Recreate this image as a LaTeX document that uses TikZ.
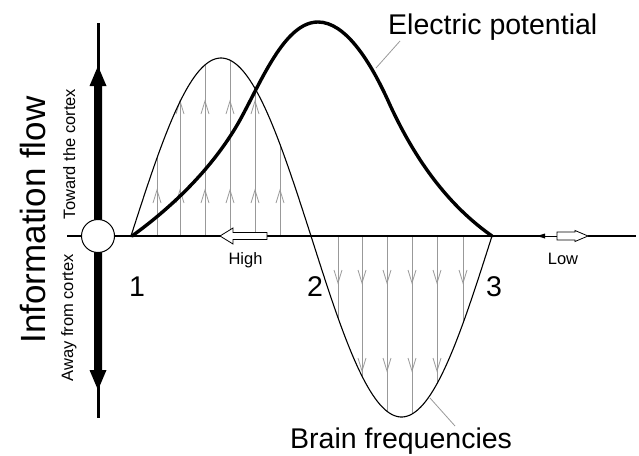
\documentclass[tikz,border=0pt]{standalone}
\usepackage{fontspec}
\setmainfont{Liberation Sans}
\begin{document}
\begin{tikzpicture}[x=1pt,y=-1pt,
  grayline/.style={black!40, line width=0.8pt},
  brain/.style={line width=1.1pt},
  elec/.style={line width=3.4pt, line cap=round},
  lbl/.style={font=\fontsize{28.5}{30}\selectfont, inner sep=0pt},
  smalltxt/.style={font=\fontsize{16.5}{18}\selectfont, inner sep=0pt},
  leader/.style={black!40, line width=0.8pt}]
\path[use as bounding box] (0,0) rectangle (639,455);

% gray lines, upper lobe
\foreach \x in {157,180,205,230,255,280}{
  \draw[grayline] (\x,236) -- (\x,{236-178*sin(\x-131)});
  \draw[grayline] (\x-4,203) -- (\x,190) -- (\x+4,203);
}
\foreach \x in {180,205,230,255}{
  \draw[grayline] (\x-4,114) -- (\x,101) -- (\x+4,114);
}
% gray lines, lower lobe
\foreach \x in {338,362,387,412,437,463}{
  \draw[grayline] (\x,236) -- (\x,{236+181*sin((\x-311)*0.99448)});
  \draw[grayline] (\x-4,270) -- (\x,283) -- (\x+4,270);
}
\foreach \x in {362,387,412,437}{
  \draw[grayline] (\x-4,358) -- (\x,371) -- (\x+4,358);
}

% brain frequencies curve
\draw[brain] plot[domain=131:311, samples=80] (\x,{236-178*sin(\x-131)});
\draw[brain] plot[domain=311:492, samples=80] (\x,{236+181*sin((\x-311)*0.99448)});

% axis
\draw[line width=2.6pt] (67,236) -- (541,236);
\fill (537,236) -- (545,233.5) -- (545,238.5) -- cycle;
\draw[line width=0.8pt] (540,236) -- (557,236);
\draw[line width=2.6pt] (588,236) -- (636,236);

% High arrow
\draw[fill=white, line width=0.8pt] (220,236) -- (233,228) -- (233,232.5) -- (267,232.5) -- (267,239.5) -- (233,239.5) -- (233,244) -- cycle;
% Low arrow
\draw[fill=white, line width=0.8pt] (557,232) -- (575,232) -- (575,230.5) -- (588,236) -- (575,241.5) -- (575,240) -- (557,240) -- cycle;

% electric potential curve
\draw[elec] (132,236) .. controls (175,205) and (215,165) .. (240,120)
  .. controls (262,80) and (285,22) .. (318,22)
  .. controls (345,22) and (370,60) .. (390,105)
  .. controls (420,170) and (455,210) .. (492,236);

% vertical thick arrow
\draw[line width=3pt] (98,23) -- (98,70);
\fill (98,66) -- (106.5,86) -- (102,86) -- (102,222) -- (94,222) -- (94,86) -- (89.5,86) -- cycle;
\draw[line width=3pt] (98,385) -- (98,418);
\fill (98,390) -- (106.5,370) -- (102,370) -- (102,250) -- (94,250) -- (94,370) -- (89.5,370) -- cycle;
\node[circle, draw, fill=white, minimum size=33pt, inner sep=0pt, line width=1pt] (c) at (98,236) {};

% texts
\node[lbl, anchor=base west] (ep) at (388,34) {Electric potential};
\node[lbl, anchor=base west] (bf) at (290,448) {Brain frequencies};
\draw[leader] (400,41) -- (376,68);
\draw[leader] (430,398) -- (455,426);
\node[lbl] (n1) at (137,287) {1};
\node[lbl] (n2) at (315,287) {2};
\node[lbl] (n3) at (494,287) {3};
\node[smalltxt, anchor=base] (hi) at (245.5,264) {High};
\node[smalltxt, anchor=base] (lo) at (563,264) {Low};
\node[smalltxt, anchor=base, rotate=90] (tw) at (75,154) {Toward the cortex};
\node[smalltxt, anchor=base, rotate=90] (aw) at (73,318) {Away from cortex};
\node[font=\fontsize{35}{38}\selectfont, inner sep=0pt, anchor=base, rotate=90] (info) at (45,220) {Information flow};
\end{tikzpicture}
\end{document}
